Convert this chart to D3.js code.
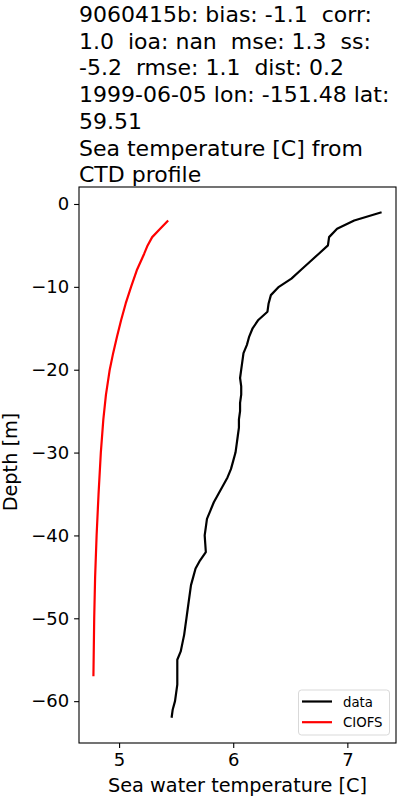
<!DOCTYPE html>
<html>
<head>
<meta charset="utf-8">
<script src="https://cdn.jsdelivr.net/npm/d3@7"></script>
<style>
  body { margin: 0; background: #fff; }
  svg { font-family: "DejaVu Sans", sans-serif; }
  text { white-space: pre; }
</style>
</head>
<body>
<div id="graph"></div>
<script>
// profile data
var dataDepth = [-1,-2,-3,-4,-5,-6,-7,-8,-9,-10,-11,-12,-13,-14,-15,-16,-17,-18,-19,-20,
  -21,-22,-23,-24,-25,-26,-27,-28,-29,-30,-31,-32,-33,-34,-35,-36,-37,-38,-39,-40,
  -41,-42,-43,-44,-45,-46,-47,-48,-49,-50,-51,-52,-53,-54,-55,-56,-57,-58,-59,-60,-61,-62];
var dataTemp = [7.30,7.06,6.91,6.84,6.83,6.75,6.67,6.59,6.51,6.40,6.33,6.31,6.30,6.22,6.17,6.14,6.12,6.09,6.08,6.07,
  6.06,6.07,6.07,6.06,6.06,6.05,6.05,6.04,6.03,6.02,6.00,5.98,5.95,5.91,5.87,5.83,5.80,5.77,5.76,5.75,
  5.755,5.76,5.71,5.67,5.65,5.63,5.62,5.61,5.60,5.59,5.58,5.57,5.555,5.54,5.51,5.51,5.51,5.51,5.50,5.49,5.47,5.46];

var modelDepth = [-2,-3,-4,-5,-6,-8,-10,-12,-14,-16,-18,-20,-23,-26,-30,-35,-40,-45,-50,-57];
var modelTemp = [5.43,5.36,5.29,5.25,5.22,5.155,5.105,5.058,5.018,4.982,4.948,4.918,4.885,4.862,4.84,4.82,4.803,4.79,4.782,4.775];

var xTicks = [5, 6, 7];
var yTicks = [0, -10, -20, -30, -40, -50, -60];

var titleLines = [
  "9060415b: bias: -1.1  corr:",
  "1.0  ioa: nan  mse: 1.3  ss:",
  "-5.2  rmse: 1.1  dist: 0.2",
  "1999-06-05 lon: -151.48 lat:",
  "59.51",
  "Sea temperature [C] from",
  "CTD profile"
];

var series = [
  {name: "data", color: "#000000", depth: dataDepth, temp: dataTemp},
  {name: "CIOFS", color: "#ff0000", depth: modelDepth, temp: modelTemp}
];

function render() {
  var width = 400, height = 800;
  var mLeft = 79, mRight = 396, mTop = 187, mBottom = 743;

  var svg = d3.select("#graph").html('')
    .append("svg")
    .attr("width", width)
    .attr("height", height);

  // matplotlib style 5% margins
  var allT = dataTemp.concat(modelTemp), allD = dataDepth.concat(modelDepth);
  var tMin = d3.min(allT), tMax = d3.max(allT);
  var dMin = d3.min(allD), dMax = d3.max(allD);
  var tPad = (tMax - tMin) * 0.05, dPad = (dMax - dMin) * 0.05;

  var x = d3.scaleLinear().domain([tMin - tPad, tMax + tPad]).range([mLeft, mRight]);
  var y = d3.scaleLinear().domain([dMin - dPad, dMax + dPad]).range([mBottom, mTop]);

  // title
  svg.append("text")
    .attr("x", mLeft)
    .attr("y", 22)
    .attr("font-size", "22px")
    .attr("fill", "#000")
    .selectAll("tspan")
    .data(titleLines)
    .enter()
    .append("tspan")
    .attr("x", mLeft)
    .attr("dy", function(d, i) { return i == 0 ? 0 : 26.7; })
    .text(function(d) { return d; });

  // lines
  var line = d3.line()
    .x(function(d) { return x(d[1]); })
    .y(function(d) { return y(d[0]); });

  svg.selectAll(".profile")
    .data(series)
    .enter()
    .append("path")
    .attr("class", "profile")
    .attr("d", function(s) { return line(d3.zip(s.depth, s.temp)); })
    .attr("fill", "none")
    .attr("stroke", function(s) { return s.color; })
    .attr("stroke-width", 2.2)
    .attr("stroke-linejoin", "round");

  // axes
  var xAxis = svg.append("g")
    .attr("transform", "translate(0," + mBottom + ")")
    .call(d3.axisBottom(x).tickValues(xTicks).tickSize(4.9).tickPadding(4.9).tickFormat(d3.format("d")));
  var yAxis = svg.append("g")
    .attr("transform", "translate(" + mLeft + ",0)")
    .call(d3.axisLeft(y).tickValues(yTicks).tickSize(4.9).tickPadding(4.9)
      .tickFormat(function(d) { return d < 0 ? "\u2212" + (-d) : d; }));

  [xAxis, yAxis].forEach(function(g) {
    g.attr("font-size", null).attr("font-family", null);
    g.select(".domain").remove();
    g.selectAll("text").attr("font-size", "18px").attr("fill", "#000");
    g.selectAll("line").attr("stroke", "#000").attr("stroke-width", 1.1);
  });

  svg.append("rect")
    .attr("x", mLeft).attr("y", mTop)
    .attr("width", mRight - mLeft).attr("height", mBottom - mTop)
    .attr("fill", "none").attr("stroke", "#000").attr("stroke-width", 1.1);

  // axis labels
  svg.append("text")
    .attr("x", (mLeft + mRight) / 2).attr("y", 792)
    .attr("text-anchor", "middle").attr("font-size", "19.3px")
    .text("Sea water temperature [C]");

  svg.append("text")
    .attr("transform", "translate(17,462) rotate(-90)")
    .attr("text-anchor", "middle").attr("font-size", "19.3px")
    .text("Depth [m]");

  // legend
  var legend = svg.append("g");
  legend.append("rect")
    .attr("x", 298.5).attr("y", 690)
    .attr("width", 91).attr("height", 45).attr("rx", 3)
    .attr("fill", "#fff").attr("fill-opacity", 0.8)
    .attr("stroke", "#d9d9d9").attr("stroke-width", 1);

  var items = legend.selectAll(".item")
    .data(series)
    .enter()
    .append("g")
    .attr("class", "item")
    .attr("transform", function(d, i) { return "translate(0," + (701.5 + i * 20.7) + ")"; });
  items.append("line")
    .attr("x1", 302).attr("x2", 332)
    .attr("stroke", function(d) { return d.color; })
    .attr("stroke-width", 2.2);
  items.append("text")
    .attr("x", 343).attr("y", 5)
    .attr("font-size", "13.3px")
    .text(function(d) { return d.name; });
}

render()
</script>
</body>
</html>
